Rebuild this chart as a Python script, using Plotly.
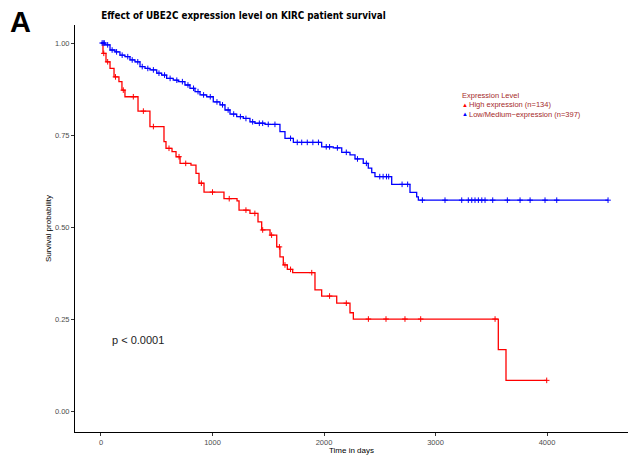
import plotly.graph_objects as go
import bisect

# ---------------- data ----------------
high_t = [0, 18, 45, 81, 117, 161, 188, 215, 332, 439, 565, 583, 637, 673, 709,
          807, 852, 879, 924, 1103, 1220, 1238, 1336, 1408, 1441, 1516, 1576,
          1605, 1635, 1671, 1719, 1919, 1979, 2114, 2233, 2263, 3563, 3632]
high_s = [1.0, 0.972, 0.949, 0.931, 0.908, 0.895, 0.872, 0.854, 0.815, 0.773,
          0.732, 0.714, 0.705, 0.691, 0.673, 0.668, 0.646, 0.619, 0.595, 0.577,
          0.571, 0.546, 0.537, 0.514, 0.492, 0.478, 0.446, 0.419, 0.397, 0.385,
          0.376, 0.329, 0.3125, 0.293, 0.267, 0.250, 0.1667, 0.0833]
high_end = 3997
high_censor = [25, 60, 130, 200, 290, 380, 470, 610, 700, 760, 900, 1000, 1150,
               1300, 1380, 1450, 1530, 1600, 1650, 1700, 1890, 2050, 2200, 2398,
               2556, 2726, 2867, 3534, 3997]

low_t = [0, 36, 81, 126, 170, 215, 260, 305, 350, 395, 439, 500, 544, 589, 648,
         693, 753, 798, 843, 888, 948, 1007, 1067, 1112, 1157, 1217, 1276, 1336,
         1381, 1471, 1605, 1650, 1725, 1979, 2083, 2159, 2233, 2278, 2352, 2397,
         2428, 2457, 2607, 2771, 2831, 2846]
low_s = [1.0, 0.995, 0.981, 0.976, 0.967, 0.963, 0.954, 0.949, 0.936, 0.931,
         0.927, 0.918, 0.913, 0.904, 0.899, 0.895, 0.886, 0.877, 0.868, 0.859,
         0.854, 0.840, 0.832, 0.818, 0.807, 0.800, 0.795, 0.786, 0.782, 0.779,
         0.759, 0.741, 0.730, 0.718, 0.715, 0.703, 0.696, 0.685, 0.673, 0.660,
         0.648, 0.637, 0.616, 0.594, 0.582, 0.573]
low_end = 4547
low_censor = [10, 20, 30, 60, 100, 140, 190, 240, 280, 330, 370, 420, 470, 520,
              570, 620, 680, 730, 780, 830, 870, 920, 980, 1040, 1090, 1140, 1190,
              1250, 1300, 1360, 1420, 1450, 1500, 1560, 1700, 1760, 1800, 1850,
              1900, 1950, 2020, 2050, 2120, 2200, 2300, 2380, 2500, 2530, 2560,
              2580, 2700, 2750, 2882, 3085, 3235, 3294, 3325, 3354, 3384, 3415,
              3444, 3513, 3644, 3758, 3848, 3982, 4087, 4547]

group_names = ["High expression (n=134)", "Low/Medium\u2212expression (n=397)"]
group_colors = ["#FF0000", "#0000FF"]

x_ticks = [0, 1000, 2000, 3000, 4000]
y_ticks = [0.0, 0.25, 0.50, 0.75, 1.00]
y_ticklabels = ["0.00", "0.25", "0.50", "0.75", "1.00"]

title_text = "Effect of UBE2C expression level on KIRC patient survival"
p_text = "p < 0.0001"
legend_title = "Expression Level"


def step_at(ts, ss, c):
    i = bisect.bisect_right(ts, c) - 1
    return ss[max(i, 0)]


FONT = "Liberation Sans, Arial, sans-serif"
NARROW = "DejaVu Sans Condensed, Liberation Sans Narrow, sans-serif"

fig = go.Figure()
for ts, ss, end, cens, name, col in [
    (high_t, high_s, high_end, high_censor, group_names[0], group_colors[0]),
    (low_t, low_s, low_end, low_censor, group_names[1], group_colors[1]),
]:
    fig.add_trace(go.Scatter(
        x=ts + [end], y=ss + [ss[-1]], mode="lines", name=name,
        line=dict(color=col, width=1.3, shape="hv"), showlegend=False,
        hoverinfo="skip"))
    fig.add_trace(go.Scatter(
        x=cens, y=[step_at(ts, ss, c) for c in cens], mode="markers",
        marker=dict(symbol="cross-thin-open", size=4, color=col,
                    line=dict(color=col, width=1)),
        showlegend=False, hoverinfo="skip"))

axis_common = dict(showline=True, linecolor="black", linewidth=1,
                   ticks="outside", ticklen=3, tickcolor="#333333",
                   showgrid=False, zeroline=False, automargin=False,
                   tickfont=dict(size=7.5, color="#4D4D4D", family=FONT))

fig.update_xaxes(range=[-233, 4726], tickvals=x_ticks,
                 title=dict(text="Time in days", font=dict(size=8, color="black", family=FONT),
                            standoff=0),
                 **axis_common)
fig.update_yaxes(range=[-0.057, 1.049], tickvals=y_ticks, ticktext=y_ticklabels,
                 title=dict(text="Survival probability", font=dict(size=8, color="black", family=FONT),
                            standoff=2),
                 **axis_common)

ann = []
# panel letter
ann.append(dict(text="<b>A</b>", xref="paper", yref="paper", x=-67/553, y=1 + 3/407,
                xanchor="left", yanchor="middle", showarrow=False,
                font=dict(size=29, color="black", family=FONT)))
# p-value
ann.append(dict(text=p_text, x=80, y=0.193, xref="x", yref="y", xanchor="left",
                yanchor="middle", showarrow=False,
                font=dict(size=11, color="#222222", family=FONT)))
# legend (compact, ggplot style)
leg_col = "#A52A2A"
lx = (460 - 75) / 553
def py(pix):
    return (432 - pix) / 407
ann.append(dict(text=legend_title, xref="paper", yref="paper", x=lx, y=py(95.5),
                xanchor="left", yanchor="middle", showarrow=False,
                font=dict(size=7.5, color=leg_col, family=FONT)))
for i, (nm, col) in enumerate(zip(group_names, group_colors)):
    yy = py(104.5 + 9.7 * i)
    ann.append(dict(text="\u25b2", xref="paper",
                    yref="paper", x=lx, y=yy, xanchor="left", yanchor="middle",
                    showarrow=False, font=dict(size=6, color=col, family=FONT)))
    ann.append(dict(text=nm, xref="paper", yref="paper", x=(467 - 75) / 553, y=yy,
                    xanchor="left", yanchor="middle", showarrow=False,
                    font=dict(size=7.5, color=leg_col, family=FONT)))

fig.update_layout(
    width=628, height=455, autosize=False,
    margin=dict(l=75, r=0, t=25, b=23),
    paper_bgcolor="white", plot_bgcolor="white",
    title=dict(text=f"<b>{title_text}</b>", xref="container", yref="container",
               x=243.5/628, xanchor="center", y=1 - 15.5/455, yanchor="middle",
               font=dict(size=9.8, color="black", family=NARROW)),
    annotations=ann,
    showlegend=False,
)

fig.write_html("out.html", config={"displayModeBar": False},
               post_script="document.body.style.margin='0';document.body.style.overflow='hidden';")
